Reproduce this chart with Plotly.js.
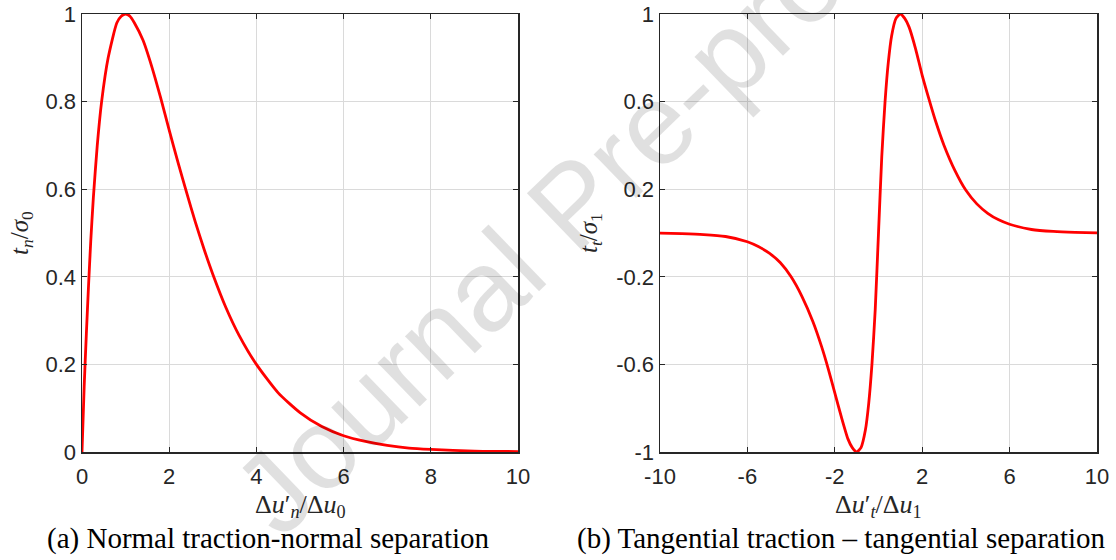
<!DOCTYPE html>
<html>
<head>
<meta charset="utf-8">
<script src="https://cdn.plot.ly/plotly-3.0.1.min.js"></script>
<style>html,body{margin:0;padding:0;background:#fff;}#chart{width:1116px;height:560px;}</style>
</head>
<body>
<div id="chart"></div>
<script>
// Normal traction vs normal separation (panel a)
const normX = [0, 0.05, 0.1, 0.15, 0.2, 0.26, 0.35, 0.45, 0.6, 0.8, 0.9, 1.0, 1.1, 1.2, 1.4, 1.6, 1.8, 2.0, 2.2, 2.4, 2.6, 2.8, 3.0, 3.3, 3.6, 4.0, 4.5, 5.0, 5.5, 6.0, 6.5, 7.0, 7.5, 8.0, 9.0, 10.0];
const normY = [0, 0.15, 0.27, 0.38, 0.48, 0.58, 0.7, 0.8, 0.9, 0.98, 0.995, 1.0, 0.995, 0.98, 0.94, 0.88, 0.81, 0.735, 0.662, 0.592, 0.525, 0.463, 0.406, 0.33, 0.267, 0.2, 0.135, 0.09, 0.058, 0.037, 0.024, 0.015, 0.009, 0.006, 0.002, 0.001];

// Tangential traction vs tangential separation (panel b)
const tangX = [-10, -9, -8, -7, -6, -5.5, -5, -4.5, -4, -3.5, -3, -2.6, -2.3, -2, -1.7, -1.4, -1.2, -1, -0.8, -0.6, -0.45, -0.3, -0.15, 0, 0.15, 0.3, 0.45, 0.6, 0.8, 1, 1.2, 1.4, 1.7, 2, 2.3, 2.6, 3, 3.5, 4, 4.5, 5, 5.5, 6, 7, 8, 9, 10];
const tangY = [-0.001, -0.003, -0.007, -0.016, -0.04, -0.062, -0.092, -0.135, -0.2, -0.29, -0.405, -0.52, -0.62, -0.73, -0.84, -0.94, -0.98, -1.0, -0.98, -0.9, -0.78, -0.6, -0.35, 0, 0.35, 0.6, 0.78, 0.9, 0.98, 1.0, 0.98, 0.94, 0.84, 0.72, 0.615, 0.515, 0.4, 0.285, 0.195, 0.133, 0.09, 0.06, 0.04, 0.016, 0.007, 0.003, 0.001];

// Tick labels
const xTicksA = [0, 2, 4, 6, 8, 10];
const xTickTextA = ['0', '2', '4', '6', '8', '10'];
const yTicksA = [0, 0.2, 0.4, 0.6, 0.8, 1];
const yTickTextA = ['0', '0.2', '0.4', '0.6', '0.8', '1'];
const xTicksB = [-10, -6, -2, 2, 6, 10];
const xTickTextB = ['-10', '-6', '-2', '2', '6', '10'];
const yTicksB = [-1, -0.6, -0.2, 0.2, 0.6, 1];
const yTickTextB = ['-1', '-0.6', '-0.2', '0.2', '0.6', '1'];

// Texts
const xTitleA = 'Δ<i>u</i>′<sub><i>n</i></sub>/Δ<i>u</i><sub>0</sub>';
const xTitleB = 'Δ<i>u</i>′<sub><i>t</i></sub>/Δ<i>u</i><sub>1</sub>';
const yTitleA = '<i>t</i><sub><i>n</i></sub>/<i>σ</i><sub>0</sub>';
const yTitleB = '<i>t</i><sub><i>t</i></sub>/<i>σ</i><sub>1</sub>';
const captionA = '(a) Normal traction-normal separation';
const captionB = '(b) Tangential traction – tangential separation';
const watermark = 'Journal Pre-proof';

const W = 1116, H = 560;
const px = v => v / W;
const py = v => 1 - v / H;

const lineStyle = {color: '#ff0000', width: 2.8, shape: 'spline', smoothing: 0.6};
const traces = [
  {x: normX, y: normY, type: 'scatter', mode: 'lines', line: lineStyle, xaxis: 'x', yaxis: 'y', hoverinfo: 'skip'},
  {x: tangX, y: tangY, type: 'scatter', mode: 'lines', line: lineStyle, xaxis: 'x2', yaxis: 'y2', hoverinfo: 'skip'}
];

const tickFont = {family: 'Liberation Sans, Arial, sans-serif', size: 22, color: '#262626'};
function axis(extra) {
  return Object.assign({
    showgrid: true, gridcolor: '#dadada', gridwidth: 1,
    showline: true, linecolor: '#262626', linewidth: 1.5, mirror: 'ticks',
    ticks: 'inside', ticklen: 5, tickwidth: 1.3, tickcolor: '#262626',
    zeroline: false, tickfont: tickFont, fixedrange: true
  }, extra);
}

const serif = 'Liberation Serif, Times New Roman, serif';
const layout = {
  width: W, height: H,
  margin: {l: 0, r: 0, t: 0, b: 0},
  paper_bgcolor: '#ffffff', plot_bgcolor: '#ffffff',
  showlegend: false,
  xaxis: axis({domain: [px(82), px(518)], range: [0, 10], tickvals: xTicksA, ticktext: xTickTextA, anchor: 'y', ticklabelstandoff: 4}),
  yaxis: axis({domain: [py(452), py(14)], range: [0, 1], tickvals: yTicksA, ticktext: yTickTextA, anchor: 'x'}),
  xaxis2: axis({domain: [px(660), px(1097)], range: [-10, 10], tickvals: xTicksB, ticktext: xTickTextB, anchor: 'y2', ticklabelstandoff: 4}),
  yaxis2: axis({domain: [py(452), py(14)], range: [-1, 1], tickvals: yTicksB, ticktext: yTickTextB, anchor: 'x2'}),
  annotations: [
    {text: xTitleA, x: px(300), y: py(506), xref: 'paper', yref: 'paper', xanchor: 'center', yanchor: 'middle', showarrow: false, font: {family: serif, size: 26, color: '#262626'}},
    {text: xTitleB, x: px(878.5), y: py(506), xref: 'paper', yref: 'paper', xanchor: 'center', yanchor: 'middle', showarrow: false, font: {family: serif, size: 26, color: '#262626'}},
    {text: yTitleA, x: px(21), y: py(233), xref: 'paper', yref: 'paper', xanchor: 'center', yanchor: 'middle', textangle: -90, showarrow: false, font: {family: serif, size: 25, color: '#262626'}},
    {text: yTitleB, x: px(590), y: py(233), xref: 'paper', yref: 'paper', xanchor: 'center', yanchor: 'middle', textangle: -90, showarrow: false, font: {family: serif, size: 25, color: '#262626'}},
    {text: captionA, x: px(268), y: py(538), xref: 'paper', yref: 'paper', xanchor: 'center', yanchor: 'middle', showarrow: false, font: {family: serif, size: 29, color: '#000000'}},
    {text: captionB, x: px(841.5), y: py(538), xref: 'paper', yref: 'paper', xanchor: 'center', yanchor: 'middle', showarrow: false, font: {family: serif, size: 29, color: '#000000'}},
    {text: watermark, x: px(573), y: py(203), xref: 'paper', yref: 'paper', xanchor: 'center', yanchor: 'middle', textangle: -44, showarrow: false, font: {family: 'Liberation Sans, Arial, sans-serif', size: 115, color: 'rgba(0,0,0,0.12)'}}
  ]
};

Plotly.newPlot('chart', traces, layout, {staticPlot: true, displayModeBar: false});
</script>
</body>
</html>
